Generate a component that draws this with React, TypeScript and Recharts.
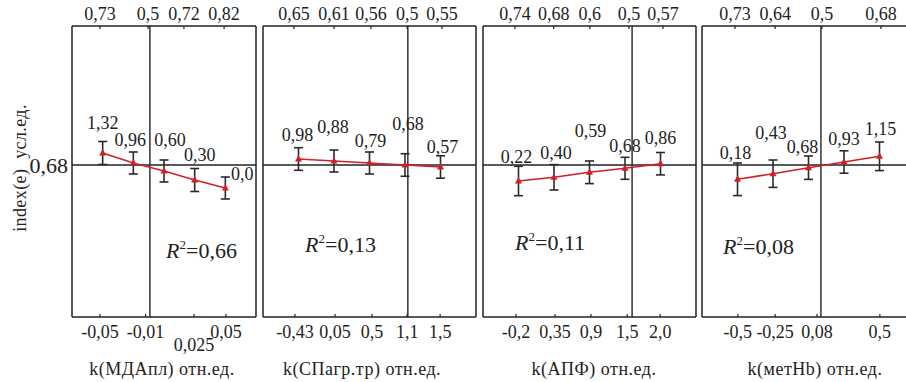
import React from 'react';
import { ComposedChart, Line, XAxis, YAxis, ReferenceLine, ErrorBar, LabelList } from 'recharts';

// k(МДАпл)
const mdaBottom = ['-0,05', '-0,01', '0,025', '0,05'];
const mdaTop = ['0,73', '0,5', '0,72', '0,82'];
const mdaMean = [0.8, 0.7, 0.62, 0.53, 0.45];
const mdaErr = [0.115, 0.11, 0.11, 0.115, 0.11];
const mdaLabels = ['1,32', '0,96', '0,60', '0,30', '0,0'];

// k(СПагр.тр)
const spBottom = ['-0,43', '0,05', '0,5', '1,1', '1,5'];
const spTop = ['0,65', '0,61', '0,56', '0,5', '0,55'];
const spMean = [0.74, 0.72, 0.7, 0.68, 0.66];
const spErr = [0.113, 0.11, 0.11, 0.113, 0.112];
const spLabels = ['0,98', '0,88', '0,79', '0,68', '0,57'];

// k(АПФ)
const apfBottom = ['-0,2', '0,35', '0,9', '1,5', '2,0'];
const apfTop = ['0,74', '0,68', '0,6', '0,5', '0,57'];
const apfMean = [0.52, 0.557, 0.607, 0.647, 0.693];
const apfErr = [0.147, 0.127, 0.113, 0.11, 0.112];
const apfLabels = ['0,22', '0,40', '0,59', '0,68', '0,86'];

// k(метHb)
const metBottom = ['-0,5', '-0,25', '0,08', '0,5'];
const metTop = ['0,73', '0,64', '0,5', '0,68'];
const metMean = [0.537, 0.593, 0.653, 0.71, 0.767];
const metErr = [0.163, 0.137, 0.117, 0.112, 0.143];
const metLabels = ['0,18', '0,43', '0,68', '0,93', '1,15'];

const yRef = 0.68;
const yRefLabel = '0,68';
const r2 = ['0,66', '0,13', '0,11', '0,08'];
const titles = ['k(МДАпл) отн.ед.', 'k(СПагр.тр) отн.ед.', 'k(АПФ) отн.ед.', 'k(метHb) отн.ед.'];

const FONT = '"Liberation Serif", "DejaVu Serif", "Times New Roman", Times, serif';
const INK = '#222';
const RED = '#cf2027';
const BOX_TOP = 26;
const BOX_BOTTOM = 317;
const H = 382;
const MX = 20;

const panels = [
  {
    x0: 72, w: 184, bottom: mdaBottom, top: mdaTop, mean: mdaMean, err: mdaErr, labels: mdaLabels,
    topPos: [0.91, 2.48, 3.65, 4.96], bottomPos: [0.91, 2.4, 3.98, 5.02], lowered: [2], vline: 2.54,
    off: [[0, -30], [-3, -23], [6, -31], [5, -25], [17, -14]],
    r2x: 166, r2y: 251, tx: 162,
  },
  {
    x0: 263, w: 213, bottom: spBottom, top: spTop, mean: spMean, err: spErr, labels: spLabels,
    topPos: [0.87, 2.0, 3.04, 4.06, 5.04], bottomPos: [0.9, 2.03, 3.07, 4.06, 4.99], lowered: [], vline: 4.08,
    off: [[-1, -24], [-1, -34], [1, -22], [3, -41], [2, -20]],
    r2x: 305, r2y: 245, tx: 362,
  },
  {
    x0: 483, w: 213, bottom: apfBottom, top: apfTop, mean: apfMean, err: apfErr, labels: apfLabels,
    topPos: [0.9, 1.99, 3.01, 4.11, 5.07], bottomPos: [0.93, 2.03, 3.04, 4.06, 4.99], lowered: [], vline: 4.2,
    off: [[-2, -24], [2, -25], [1, -42], [0, -23], [0, -26]],
    r2x: 515, r2y: 243, tx: 594,
  },
  {
    x0: 702, w: 213, bottom: metBottom, top: metTop, mean: metMean, err: metErr, labels: metLabels,
    topPos: [0.93, 2.06, 3.38, 5.04], bottomPos: [1.01, 2.06, 3.24, 5.01], lowered: [], vline: 3.35,
    off: [[-2, -27], [-2, -41], [-6, -21], [0, -23], [1, -28]],
    r2x: 723, r2y: 247, tx: 815,
  },
];

const AxisTick = (props: any) => {
  const { x, y, index, labels, side, lowered } = props;
  const isBottom = side === 'bottom';
  const ty = isBottom ? y + 15 + (lowered.includes(index) ? 13 : 0) : y - 12;
  return (
    <g>
      <line x1={x} y1={y} x2={x} y2={isBottom ? y - 3 : y + 3} stroke={INK} strokeWidth={1.2} />
      <text x={x} y={ty} dy="0.35em" textAnchor="middle" fontFamily={FONT} fontSize={18} fill={INK}>
        {labels[index]}
      </text>
    </g>
  );
};

const Triangle = (props: any) => {
  const { cx, cy } = props;
  if (cx == null || cy == null) return null;
  return <polygon points={`${cx},${cy - 4} ${cx - 3.5},${cy + 2.5} ${cx + 3.5},${cy + 2.5}`} fill={RED} />;
};

const Panel = ({ p, first }: { p: any; first: boolean }) => {
  const data = p.mean.map((v: number, i: number) => ({ x: i + 1, y: v, err: p.err[i], label: p.labels[i] }));
  const left = first ? 0 : p.x0 - MX;
  const mLeft = first ? p.x0 : MX;
  const width = mLeft + p.w + MX;

  const renderLabel = (lp: any) => {
    const { x, y, index, value } = lp;
    const [dx, dy] = p.off[index];
    return (
      <text x={x + dx} y={y + dy} dy="0.35em" textAnchor="middle" fontFamily={FONT} fontSize={18} fill={INK}>
        {value}
      </text>
    );
  };

  return (
    <div style={{ position: 'absolute', left, top: 0 }}>
      <ComposedChart width={width} height={H} data={data}
        margin={{ top: BOX_TOP - 1, bottom: H - BOX_BOTTOM - 1, left: mLeft - 1, right: MX - 1 }}>
        <XAxis xAxisId="b" dataKey="x" type="number" domain={[0, 6]} ticks={p.bottomPos} height={1}
          tickSize={0} tickMargin={0} tickLine={false} interval={0}
          axisLine={{ stroke: INK, strokeWidth: 1.5 }}
          tick={<AxisTick labels={p.bottom} side="bottom" lowered={p.lowered} />} />
        <XAxis xAxisId="t" orientation="top" dataKey="x" type="number" domain={[0, 6]} ticks={p.topPos}
          height={1} tickSize={0} tickMargin={0} tickLine={false} interval={0}
          axisLine={{ stroke: INK, strokeWidth: 1.5 }}
          tick={<AxisTick labels={p.top} side="top" lowered={[]} />} />
        <YAxis yAxisId="l" type="number" domain={[-0.84, 2.07]} ticks={[yRef]} width={1}
          tickLine={false} tickSize={0} tickMargin={4} interval={0}
          axisLine={{ stroke: INK, strokeWidth: 1.5 }}
          tick={first ? { fill: INK, fontSize: 22, fontFamily: FONT } : false}
          tickFormatter={() => yRefLabel} />
        <YAxis yAxisId="r" orientation="right" type="number" domain={[-0.84, 2.07]} width={1}
          tick={false} tickLine={false} axisLine={{ stroke: INK, strokeWidth: 1.5 }} />
        <ReferenceLine xAxisId="b" yAxisId="l" y={yRef} stroke={INK} strokeWidth={1.5} />
        <ReferenceLine xAxisId="b" yAxisId="l" x={p.vline} stroke="#333" strokeWidth={1.5} />
        <Line xAxisId="t" yAxisId="r" dataKey="y" stroke="none" dot={false} activeDot={false}
          isAnimationActive={false} />
        <Line xAxisId="b" yAxisId="l" dataKey="y" stroke={RED} strokeWidth={1.5}
          dot={<Triangle />} activeDot={false} isAnimationActive={false}>
          <ErrorBar dataKey="err" direction="y" width={4.5} stroke="#2a2a2a" strokeWidth={1.6} />
          <LabelList dataKey="label" content={renderLabel} />
        </Line>
      </ComposedChart>
    </div>
  );
};

export default function App() {
  return (
    <div style={{ position: 'absolute', left: 0, top: 0, width: 906, height: H, overflow: 'hidden', background: '#fff', fontFamily: FONT, color: INK }}>
      {panels.map((p, i) => (
        <Panel key={i} p={p} first={i === 0} />
      ))}
      <div style={{ position: 'absolute', left: 20, top: 168, transform: 'translate(-50%, -50%) rotate(-90deg)', whiteSpace: 'nowrap', fontSize: 18, letterSpacing: 0.4 }}>
        index(e)&nbsp;&nbsp;усл.ед.
      </div>
      {panels.map((p, i) => (
        <div key={'r' + i} style={{ position: 'absolute', left: p.r2x, top: p.r2y, transform: 'translateY(-50%)', fontSize: 22, whiteSpace: 'nowrap', lineHeight: 1 }}>
          <i>R</i><sup style={{ fontSize: 13, verticalAlign: 'top', position: 'relative', top: -2 }}>2</sup>={r2[i]}
        </div>
      ))}
      {panels.map((p, i) => (
        <div key={'t' + i} style={{ position: 'absolute', left: p.tx, top: 369, transform: 'translate(-50%, -50%)', fontSize: 18, letterSpacing: 0.5, whiteSpace: 'nowrap', lineHeight: 1 }}>
          {titles[i]}
        </div>
      ))}
    </div>
  );
}
